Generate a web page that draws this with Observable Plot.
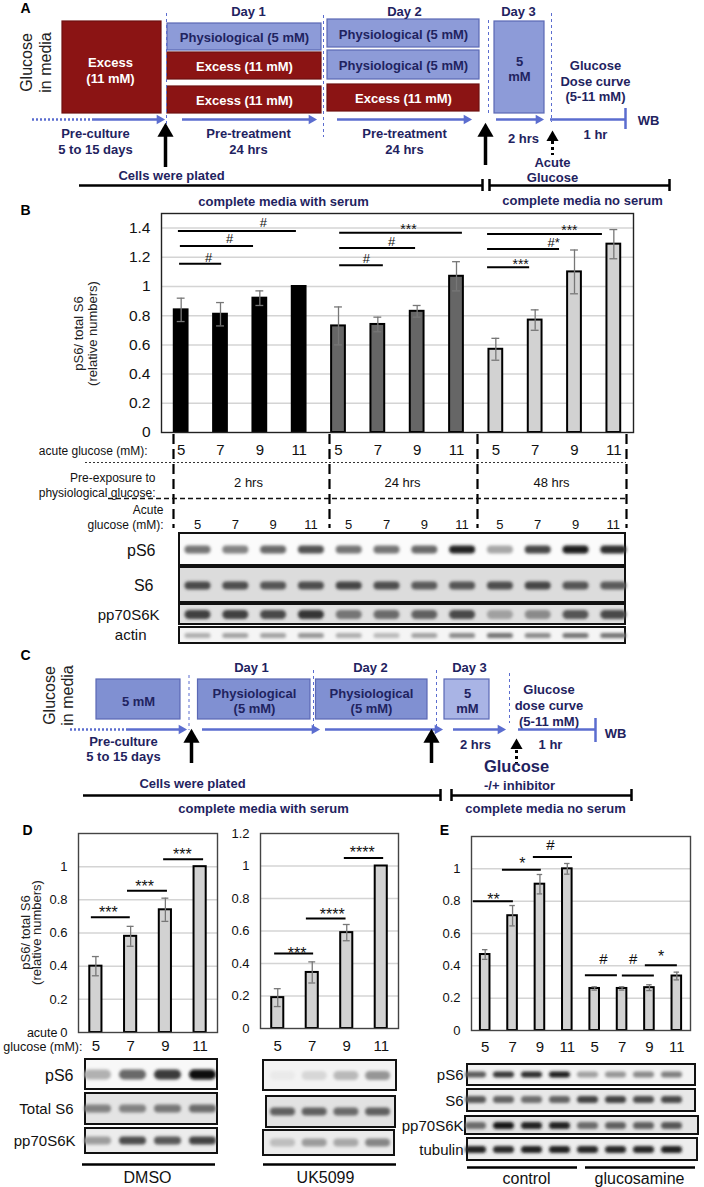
<!DOCTYPE html>
<html><head><meta charset="utf-8">
<script src="https://cdn.jsdelivr.net/npm/d3@7"></script>
<script src="https://cdn.jsdelivr.net/npm/@observablehq/plot@0.6"></script>
<style>
body{margin:0;background:#fff}
#fig{position:relative;width:704px;height:1187px;overflow:hidden}
#fig svg{position:absolute;left:0;top:0}
</style></head><body><div id="fig"></div>
<script>
// ================= DATA =================
// Panel B
const bGlucose = [5,7,9,11,5,7,9,11,5,7,9,11];
const bPreExposure = ["2 hrs","24 hrs","48 hrs"];
const bValues = [0.84,0.81,0.92,1.00, 0.73,0.74,0.83,1.07, 0.57,0.77,1.10,1.29];
const bErrors = [0.08,0.08,0.05,0, 0.13,0.05,0.04,0.10, 0.075,0.07,0.15,0.10];
const bSig = [
  {a:-0.07,b:2.93,y:1.38,label:"#",lx:2.09,ly:1.434},
  {a:-0.02,b:1.84,y:1.277,label:"#",lx:1.23,ly:1.325},
  {a:-0.04,b:1.03,y:1.155,label:"#",lx:0.70,ly:1.194},
  {a:4.03,b:7.15,y:1.368,label:"***",lx:5.78,ly:1.421},
  {a:4.03,b:5.96,y:1.263,label:"#",lx:5.35,ly:1.304},
  {a:4.03,b:5.14,y:1.146,label:"#",lx:4.71,ly:1.187},
  {a:7.79,b:10.71,y:1.359,label:"***",lx:9.87,ly:1.414},
  {a:7.79,b:9.62,y:1.256,label:"#*",lx:9.47,ly:1.297},
  {a:7.79,b:8.86,y:1.132,label:"***",lx:8.63,ly:1.18}
];
const bBlotPS6   = [0.55,0.5,0.6,0.7, 0.55,0.55,0.6,0.9, 0.35,0.75,0.92,0.85];
const bBlotS6    = [0.7,0.68,0.65,0.68, 0.72,0.68,0.62,0.65, 0.68,0.72,0.65,0.62];
const bBlotP70   = [0.75,0.75,0.7,0.8, 0.5,0.55,0.6,0.7, 0.3,0.4,0.65,0.7];
const bBlotActin = [0.3,0.35,0.35,0.4, 0.3,0.25,0.35,0.45, 0.55,0.45,0.55,0.55];

// Panel D
const dGlucose = [5,7,9,11];
const dDmsoValues = [0.40,0.58,0.74,1.00];
const dDmsoErrors = [0.058,0.06,0.07,0];
const dDmsoSig = [
  {a:-0.13,b:0.99,y:0.695,label:"***",lx:0.36,ly:0.748},
  {a:0.91,b:2.06,y:0.855,label:"***",lx:1.40,ly:0.905},
  {a:1.95,b:3.10,y:1.044,label:"***",lx:2.49,ly:1.098}
];
const dUkValues = [0.19,0.345,0.59,1.00];
const dUkErrors = [0.055,0.065,0.05,0];
const dUkSig = [
  {a:-0.09,b:1.04,y:0.461,label:"***",lx:0.56,ly:0.486},
  {a:0.83,b:1.98,y:0.677,label:"****",lx:1.58,ly:0.722},
  {a:1.93,b:3.07,y:1.049,label:"****",lx:2.45,ly:1.103}
];
const dDmsoPS6 = [0.3,0.6,0.8,1.0], dDmsoS6 = [0.45,0.45,0.5,0.55], dDmsoP70 = [0.35,0.7,0.65,0.75];
const dUkPS6 = [0.04,0.12,0.25,0.4], dUkS6 = [0.6,0.6,0.55,0.6], dUkP70 = [0.2,0.35,0.3,0.45];
const dTreatments = ["DMSO","UK5099"];

// Panel E
const eGlucose = [5,7,9,11,5,7,9,11];
const eGroups = ["control","glucosamine"];
const eValues = [0.47,0.71,0.905,1.00, 0.26,0.26,0.265,0.337];
const eErrors = [0.03,0.063,0.06,0.033, 0.01,0.01,0.018,0.024];
const eSig = [
  {a:-0.43,b:1.03,y:0.80,label:"**",lx:0.30,ly:0.835},
  {a:0.63,b:2.05,y:0.994,label:"*",lx:1.36,ly:1.058},
  {a:1.76,b:3.19,y:1.073,label:"#",lx:2.38,ly:1.144},
  {a:3.66,b:4.83,y:0.342,label:"#",lx:4.32,ly:0.439},
  {a:5.01,b:6.18,y:0.34,label:"#",lx:5.41,ly:0.439},
  {a:5.85,b:7.02,y:0.404,label:"*",lx:6.43,ly:0.482}
];
const ePS6 = [0.65,0.8,0.85,0.92, 0.35,0.4,0.45,0.5];
const eS6  = [0.65,0.6,0.55,0.6, 0.75,0.75,0.7,0.72];
const eP70 = [0.55,0.95,0.9,0.9, 0.55,0.6,0.6,0.65];
const eTub = [0.9,0.85,0.9,0.9, 0.88,0.88,0.88,0.9];

// ================= STYLE / LAYOUT =================
const FONT = '"Liberation Sans", Arial, Helvetica, sans-serif';
const NAVY = "#1f2360", BLUE = "#5b6dcf";
const PHYS = "#8d9bd8", PHYS_STROKE = "#5a68b5", EXCESS = "#8b1414", EXCESS_STROKE = "#6e1010";
const C_BOX = "#8090d2", C_LIGHT = "#a9b4e5";
const fig = document.getElementById("fig");

const T = (rows, o) => Plot.text(rows, {x: r => r[1], y: r => r[2], text: r => r[0], lineAnchor: "middle", ...o});
const H = (rows, o) => Plot.ruleY(rows, {y: r => r[0], x1: r => r[1], x2: r => r[2], ...o});
const V = (rows, o) => Plot.ruleX(rows, {x: r => r[0], y1: r => r[1], y2: r => r[2], ...o});
const TRI = (rows, o) => Plot.dot(rows, {x: r => r[0], y: r => r[1], symbol: "triangle", fill: "#000", stroke: "none", ...o});

// boxes: x1,x2,y1,y2,fill,stroke
const boxes = [
  [62,161,21,113,EXCESS,EXCESS_STROKE],
  [167,321,23,50,PHYS,PHYS_STROKE],[167,321,52,79,EXCESS,EXCESS_STROKE],[167,321,86,113,EXCESS,EXCESS_STROKE],
  [327,479,19,47,PHYS,PHYS_STROKE],[327,479,50,79,PHYS,PHYS_STROKE],[327,479,84,111,EXCESS,EXCESS_STROKE],
  [494,544,21,113,PHYS,PHYS_STROKE],
  [96,180,679,719,C_BOX,PHYS_STROKE],[197.5,310,679,719,C_BOX,PHYS_STROKE],[315.5,427,679,719,C_BOX,PHYS_STROKE],[444,489,679,719,C_LIGHT,PHYS_STROKE]
];
// blot frames: x1,x2,y1,y2,background
const blotFrames = [
  [179,625,533,565,"#fbfbfb"],[179,625,567,602,"#dcdcdc"],[179,625,604,624,"#e0e0e0"],[179,625,627,643,"#f5f5f5"],
  [85,217,1059,1089,"#f8f8f8"],[85,217,1093,1124,"#e4e4e4"],[85,217,1128,1153,"#ececec"],
  [263,396,1060,1090,"#f3f3f3"],[266,395,1096,1127,"#e2e2e2"],[263,394,1130,1155,"#ebebeb"],
  [467,695,1064,1085,"#f3f3f3"],[467,695,1089,1111,"#e8e8e8"],[465,698,1116,1134,"#e4e4e4"],[467,697,1138,1160,"#ededed"]
];
// blot rows: intensities, first lane x, lane step, band width, y, thickness, background
const blotRows = [
  [bBlotPS6,197,37.8,26,549,8,"#fbfbfb"],[bBlotS6,197,37.8,26,585,8,"#dcdcdc"],
  [bBlotP70,197,37.8,26,614,9,"#e0e0e0"],[bBlotActin,197,37.8,26,635,5,"#f5f5f5"],
  [dDmsoPS6,97,35,27,1074,10,"#f8f8f8"],[dDmsoS6,97,35,27,1108,8,"#e4e4e4"],[dDmsoP70,97,35,27,1140,8,"#ececec"],
  [dUkPS6,282,31.7,25,1075,9,"#f3f3f3"],[dUkS6,282,31.7,25,1111,8,"#e2e2e2"],[dUkP70,282,31.7,25,1142,8,"#ebebeb"],
  [ePS6,475,28,21,1074,6,"#f3f3f3"],[eS6,475,28,21,1099,7,"#e8e8e8"],[eP70,475,28,21,1125,7,"#e4e4e4"],[eTub,475,28,21,1149,7,"#ededed"]
];

const canvasMarks = [
  Plot.rect(boxes, {x1: b=>b[0], x2: b=>b[1], y1: b=>b[2], y2: b=>b[3], fill: b=>b[4], stroke: b=>b[5], strokeWidth: 1.2}),
  Plot.rect(blotFrames, {x1: b=>b[0], x2: b=>b[1], y1: b=>b[2], y2: b=>b[3], fill: b=>b[4], stroke: "#111", strokeWidth: 2}),
  // panel letters
  T([["A",25,8],["B",25,210],["C",25,655],["D",27,830],["E",444,830]], {fontSize: 14, fontWeight: "bold", fill: "#000"}),
  // rotated "Glucose in media"
  T([["Glucose",26,62],["in media",45,62],["Glucose",49,695],["in media",67,695]], {fontSize: 16, fill: "#222", rotate: -90}),
  // y titles
  T([["pS6/ total S6",78,333],["(relative numbers)",92,333],["pS6/ total S6",25,932],["(relative numbers)",36,932]], {fontSize: 13, fill: "#222", rotate: -90}),
  // navy bold schematic text
  T([["Day 1",248,10],["Day 2",404,10],["Day 3",518,10],
     ["Physiological (5 mM)",244,36.5],["Physiological (5 mM)",403,33],["Physiological (5 mM)",403,64.5],
     ["5\nmM",519,68],["Glucose\nDose curve\n(5-11 mM)",595,80],
     ["Pre-culture\n5 to 15 days",95,140.5],["Pre-treatment\n24 hrs",248,140.5],["Pre-treatment\n24 hrs",404,140.5],
     ["WB",648,119],["2 hrs",523,137],["1 hr",595,133],["Acute\nGlucose",552,169],["Cells were plated",171,174],
     ["complete media with serum",283,200],["complete media no serum",582,199],
     ["Day 1",251,666],["Day 2",370,666],["Day 3",469,666],
     ["5 mM",138,700],["Physiological\n(5 mM)",254,700],["Physiological\n(5 mM)",371,700],["5\nmM",467,700],
     ["Glucose\ndose curve\n(5-11 mM)",548.5,704.5],["Pre-culture\n5 to 15 days",123,748],
     ["WB",615,732],["2 hrs",475,743],["1 hr",550,743],["Cells were plated",192,782],["-/+ inhibitor",519,784],
     ["complete media with serum",263,807],["complete media no serum",545,807]],
    {fontSize: 13, fontWeight: "bold", fill: NAVY, lineHeight: 1.2}),
  T([["Glucose",516,766]], {fontSize: 16.5, fontWeight: "bold", fill: NAVY}),
  T([["Excess\n(11 mM)",110,69],["Excess (11 mM)",244,65.5],["Excess (11 mM)",244,99.5],["Excess (11 mM)",403,97.5]],
    {fontSize: 13, fontWeight: "bold", fill: "#fff", lineHeight: 1.22}),
  // blue dashed separators
  V([[166,13,138],[323,15,137],[488,20,113],[551,13,122],[188.5,675,730],[313,670,730],[436,670,730],[509,673,723]],
    {stroke: BLUE, strokeWidth: 1, strokeDasharray: "3,3"}),
  // blue timeline arrows
  H([[119,32,94],[729,70,128]], {stroke: BLUE, strokeWidth: 2.5, strokeDasharray: "2,2"}),
  H([[119,94,160],[119,182,312],[119,337,467],[119,496,539],[119,550,625],
     [729,128,182],[729,202,315],[729,325,438],[729,453,501],[729,518,595]], {stroke: BLUE, strokeWidth: 2.5}),
  V([[625,108,129],[595,718,742]], {stroke: BLUE, strokeWidth: 2.5}),
  TRI([[159,119],[311,119],[466,119],[538,119],[181,729],[314,729],[437,729],[500,729]], {r: 3.6, rotate: 90, fill: BLUE}),
  // black "plated" arrows
  V([[165,131,167],[485,131,165],[191,737,763],[431,737,763]], {stroke: "#000", strokeWidth: 3.5}),
  TRI([[165,131.5],[485,131.5],[191,737.5],[431,737.5]], {r: 6}),
  TRI([[552,137],[516,745]], {r: 4.5}),
  V([[552,141,155],[516,750,763]], {stroke: "#000", strokeWidth: 3, strokeDasharray: "3,3"}),
  // media brackets
  H([[185,79,482],[185,489,669],[795,83,440],[795,451,631]], {stroke: "#000", strokeWidth: 2.5}),
  V([[482,179,191],[489,179,191],[669,179,191],[440,789,801],[451,789,801],[631,789,801]], {stroke: "#000", strokeWidth: 2.5}),
  // panel B condition table
  V([[173,434,528],[329,434,528],[477,434,528],[626,434,528]], {stroke: "#000", strokeWidth: 2.2, strokeDasharray: "10,5"}),
  H([[462,85,626]], {stroke: "#333", strokeWidth: 1, strokeDasharray: "2,2"}),
  H([[498,108,626]], {stroke: "#111", strokeWidth: 1.6, strokeDasharray: "5,3"}),
  T([["acute glucose (mM):",147,450],["Pre-exposure to\nphysiological glucose:",155,484.5],["Acute\nglucose (mM):",163,516.5]],
    {fontSize: 12, fill: "#111", textAnchor: "end", lineHeight: 1.25}),
  T(bPreExposure.map((p,i)=>[p,[248,402,551][i],482]), {fontSize: 13, fill: "#111"}),
  T(bGlucose.map((g,i)=>[String(g),197+37.8*i,524]), {fontSize: 13, fill: "#111"}),
  // blot labels
  T([["pS6",155,550],["S6",153,585],["pS6",73,1075]], {fontSize: 16, fill: "#111", textAnchor: "end"}),
  T([["pp70S6K",159,615],["actin",146,635],["Total S6",73,1109],["pp70S6K",75,1141],
     ["pS6",463,1075],["S6",463,1101],["pp70S6K",463,1126],["tubulin",463,1150]], {fontSize: 15, fill: "#111", textAnchor: "end"}),
  T([["acute",57,1032],["glucose (mM):",82,1046]], {fontSize: 12.5, fill: "#111", textAnchor: "end"}),
  // group underlines
  H([[1164,82,215],[1164,263,396],[1167,467,577],[1167,585,695]], {stroke: "#000", strokeWidth: 2.5}),
  T([[dTreatments[0],147,1177],[dTreatments[1],325,1177],[eGroups[0],526,1178],[eGroups[1],639,1178]], {fontSize: 16, fill: "#111"})
];
// blot bands (blurred links)
for (const [vals, x0, step, w, y, th, bg] of blotRows) {
  const ink = d3.interpolateRgb(bg, "#0a0a0a");
  canvasMarks.push(Plot.link(vals.map((k,i)=>({x: x0+step*i, k})), {
    x1: d=>d.x-w/2+th/2, x2: d=>d.x+w/2-th/2, y1: y, y2: y,
    stroke: d=>ink(d.k), strokeWidth: th, strokeLinecap: "round"
  }));
}

const canvas = Plot.plot({
  width: 704, height: 1187, margin: 0,
  x: {domain: [0,704], range: [0,704], axis: null},
  y: {domain: [0,1187], range: [0,1187], axis: null},
  color: {type: "identity"},
  style: {fontFamily: FONT, background: "transparent", overflow: "visible"},
  marks: canvasMarks
});
{
  const s = d3.select(canvas);
  const defs = s.insert("defs", ":first-child");
  defs.append("filter").attr("id","blotblur").attr("filterUnits","userSpaceOnUse")
    .attr("x",0).attr("y",0).attr("width",704).attr("height",1187)
    .append("feGaussianBlur").attr("stdDeviation", 1.5);
  s.selectAll('g[aria-label="link"]').attr("filter","url(#blotblur)");
}
fig.appendChild(canvas);

// ================= BAR CHARTS =================
function barChart(c) {
  const n = c.values.length;
  const data = c.values.map((v,i)=>({i, v, e: c.errors[i], g: c.glucose[i], fill: c.fills[i]}));
  const err = data.filter(d=>d.e>0);
  const hw = 0.175, cap = 0.1;
  const isStar = s => /^\*+$/.test(s);
  const svg = Plot.plot({
    width: c.box.w, height: c.box.h,
    marginLeft: c.box.ml, marginRight: c.box.mr, marginTop: c.box.mt, marginBottom: c.box.mb,
    x: {domain: [-0.5, n-0.5], axis: null},
    y: {domain: [0, c.ymax], axis: null},
    color: {type: "identity"},
    style: {fontFamily: FONT, fontSize: c.tickFont+"px", background: "transparent", color: "#111", overflow: "visible"},
    marks: [
      Plot.ruleY(c.ticks.filter(t=>t>0 && t<c.ymax-1e-9), {stroke: "#d4d4d4", strokeWidth: 1.5}),
      Plot.axisY({ticks: c.ticks, tickSize: 0, tickPadding: 11, tickFormat: d=>String(+d.toFixed(1))}),
      Plot.rectY(data, {x1: d=>d.i-hw, x2: d=>d.i+hw, y1: 0, y2: "v", fill: "fill", stroke: "#000", strokeWidth: 2}),
      Plot.ruleX(err, {x: "i", y1: d=>d.v-d.e, y2: d=>d.v+d.e, stroke: "#777", strokeWidth: 1.3}),
      Plot.ruleY(err, {y: d=>d.v+d.e, x1: d=>d.i-cap, x2: d=>d.i+cap, stroke: "#777", strokeWidth: 1.3}),
      Plot.ruleY(err, {y: d=>d.v-d.e, x1: d=>d.i-cap, x2: d=>d.i+cap, stroke: "#777", strokeWidth: 1.3}),
      Plot.ruleY(c.sig, {y: "y", x1: "a", x2: "b", stroke: "#000", strokeWidth: 2}),
      Plot.text(c.sig.filter(s=>!isStar(s.label)), {x: "lx", y: "ly", text: "label", fontSize: c.sigFont, fill: "#111"}),
      Plot.text(c.sig.filter(s=>isStar(s.label)), {x: "lx", y: "ly", text: "label", fontSize: c.sigFont+1, dy: Math.round(0.27*(c.sigFont+1)), fill: "#111"}),
      Plot.text(data, {x: "i", y: 0, text: d=>String(d.g), dy: c.labelDy, fontSize: c.labelFont, fill: "#111"}),
      Plot.frame({stroke: c.frameStroke, strokeWidth: 1.4})
    ]
  });
  svg.style.left = c.box.left+"px";
  svg.style.top = c.box.top+"px";
  fig.appendChild(svg);
}

barChart({values: bValues, errors: bErrors, glucose: bGlucose, sig: bSig,
  fills: bValues.map((v,i)=>["#000000","#666666","#d2d2d2"][Math.floor(i/4)]),
  ymax: 1.5, ticks: [0,0.2,0.4,0.6,0.8,1,1.2,1.4], tickFont: 15.5, labelFont: 15, sigFont: 13, labelDy: 18, frameStroke: "#222",
  box: {left: 100, top: 200, w: 560, h: 260, ml: 61, mr: 27, mt: 13, mb: 28}});
barChart({values: dDmsoValues, errors: dDmsoErrors, glucose: dGlucose, sig: dDmsoSig, fills: dDmsoValues.map(()=>"#d2d2d2"),
  ymax: 1.2, ticks: [0,0.2,0.4,0.6,0.8,1], tickFont: 13, labelFont: 15, sigFont: 15, labelDy: 14, frameStroke: "#444",
  box: {left: 0, top: 820, w: 230, h: 240, ml: 78, mr: 13, mt: 13, mb: 28}});
barChart({values: dUkValues, errors: dUkErrors, glucose: dGlucose, sig: dUkSig, fills: dUkValues.map(()=>"#d2d2d2"),
  ymax: 1.2, ticks: [0,0.2,0.4,0.6,0.8,1,1.2], tickFont: 13, labelFont: 15, sigFont: 15, labelDy: 18, frameStroke: "#444",
  box: {left: 230, top: 820, w: 180, h: 240, ml: 30, mr: 12, mt: 13, mb: 32}});
barChart({values: eValues, errors: eErrors, glucose: eGlucose, sig: eSig, fills: eValues.map(()=>"#d2d2d2"),
  ymax: 1.2, ticks: [0,0.2,0.4,0.6,0.8,1], tickFont: 13, labelFont: 15, sigFont: 15, labelDy: 17, frameStroke: "#444",
  box: {left: 420, top: 820, w: 284, h: 240, ml: 51, mr: 14, mt: 16, mb: 30}});
</script></body></html>
